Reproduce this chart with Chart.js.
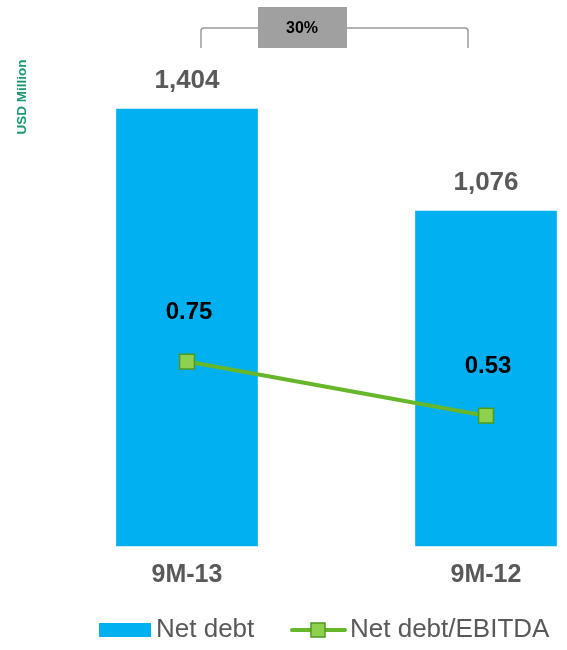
<!DOCTYPE html>
<html>
<head>
<meta charset="utf-8">
<script src="https://cdn.jsdelivr.net/npm/chart.js@4/dist/chart.umd.min.js"></script>
<style>
  html, body { margin: 0; padding: 0; background: #fff; }
  #chart { display: block; }
</style>
</head>
<body>
<canvas id="chart" width="567" height="650"></canvas>
<script>
const categories = ['9M-13', '9M-12'];
const netDebt = [1404, 1076];
const netDebtLabels = ['1,404', '1,076'];
const debtToEbitda = [0.75, 0.53];
const changeLabel = '30%';
const unitLabel = 'USD Million';

const BLUE = '#00B0F0';
const GREEN = '#66B82A';
const GREY_TEXT = '#595959';
const FONT = '"Liberation Sans", Arial, sans-serif';

// labels over bars and points, bracket, unit title, legend
const annotations = {
    id: 'annotations',
    afterDatasetsDraw(chart) {
        const ctx = chart.ctx;
        const bars = chart.getDatasetMeta(0).data;
        const pts = chart.getDatasetMeta(1).data;
        ctx.save();
        ctx.textAlign = 'center';
        ctx.textBaseline = 'middle';

        ctx.font = 'bold 26px ' + FONT;
        ctx.fillStyle = GREY_TEXT;
        bars.forEach((b, i) => ctx.fillText(netDebtLabels[i], b.x, b.y - 28));

        ctx.font = 'bold 24px ' + FONT;
        ctx.fillStyle = '#000';
        pts.forEach((p, i) => ctx.fillText(debtToEbitda[i].toFixed(2), p.x + 2, p.y - 49));

        // bracket with change box
        const x1 = bars[0].x + 14, x2 = bars[1].x - 18;
        ctx.strokeStyle = '#9a9a9a';
        ctx.lineWidth = 1.5;
        ctx.beginPath();
        ctx.moveTo(x1, 48);
        ctx.lineTo(x1, 31);
        ctx.quadraticCurveTo(x1, 28, x1 + 3, 28);
        ctx.lineTo(x2 - 3, 28);
        ctx.quadraticCurveTo(x2, 28, x2, 31);
        ctx.lineTo(x2, 48);
        ctx.stroke();
        ctx.fillStyle = '#A0A0A0';
        ctx.fillRect(258, 7, 89, 41);
        ctx.fillStyle = '#000';
        ctx.font = 'bold 16px ' + FONT;
        ctx.fillText(changeLabel, 302, 29);

        // unit title
        ctx.save();
        ctx.translate(22, 97);
        ctx.rotate(-Math.PI / 2);
        ctx.fillStyle = '#1A9A6C';
        ctx.font = 'bold 13.5px ' + FONT;
        ctx.fillText(unitLabel, 0, 0);
        ctx.restore();

        // legend
        ctx.textAlign = 'left';
        ctx.font = '26px ' + FONT;
        ctx.fillStyle = BLUE;
        ctx.fillRect(99, 623, 52, 14);
        ctx.fillStyle = GREY_TEXT;
        ctx.fillText(chart.data.datasets[0].label, 156, 630);

        ctx.strokeStyle = GREEN;
        ctx.lineWidth = 4;
        ctx.lineCap = 'round';
        ctx.beginPath();
        ctx.moveTo(292, 630);
        ctx.lineTo(345, 630);
        ctx.stroke();
        ctx.fillStyle = '#8ED14F';
        ctx.strokeStyle = '#4E9A1A';
        ctx.lineWidth = 1.5;
        ctx.fillRect(311, 623, 14, 14);
        ctx.strokeRect(311, 623, 14, 14);
        ctx.fillStyle = GREY_TEXT;
        ctx.fillText(chart.data.datasets[1].label, 350, 630);
        ctx.restore();
    }
};

new Chart(document.getElementById('chart'), {
    data: {
        labels: categories,
        datasets: [
            {
                type: 'bar',
                label: 'Net debt',
                data: netDebt,
                yAxisID: 'y',
                backgroundColor: BLUE,
                barThickness: 141,
                clip: false,
                order: 1
            },
            {
                type: 'line',
                label: 'Net debt/EBITDA',
                data: debtToEbitda,
                yAxisID: 'y1',
                borderColor: GREEN,
                borderWidth: 4,
                pointStyle: 'rect',
                pointRadius: 10.5,
                pointBackgroundColor: '#8ED14F',
                pointBorderColor: '#4E9A1A',
                pointBorderWidth: 1.5,
                clip: false,
                order: 0
            }
        ]
    },
    options: {
        responsive: false,
        animation: false,
        layout: { padding: { left: 187, right: 81, top: 48, bottom: 46 } },
        plugins: {
            legend: { display: false },
            tooltip: { enabled: false }
        },
        scales: {
            x: {
                offset: false,
                grid: { display: false, drawTicks: false },
                border: { display: false },
                ticks: {
                    padding: 14,
                    color: GREY_TEXT,
                    font: { family: FONT, size: 25, weight: 'bold' }
                }
            },
            y: {
                display: false,
                min: 0,
                max: 1600
            },
            y1: {
                display: false,
                min: 0,
                max: 2.025
            }
        }
    },
    plugins: [annotations]
});
</script>
</body>
</html>
